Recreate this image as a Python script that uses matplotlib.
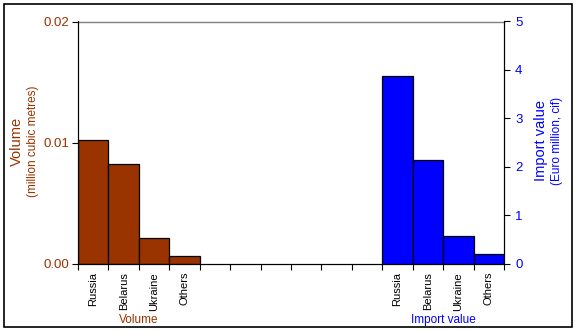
import numpy as np
import matplotlib
matplotlib.use("Agg")
import matplotlib.pyplot as plt
from matplotlib.patches import Rectangle

# ============ 数据 ============
countries = ["Russia", "Belarus", "Ukraine", "Others"]
volume = [0.0102, 0.0082, 0.0021, 0.0006]      # million cubic metres
import_value = [3.88, 2.13, 0.56, 0.19]        # Euro million, cif
group_labels = ["Volume", "Import value"]

N_SLOTS = 14
GAP = 6
BROWN = "#993300"
BLUE = "#0000FF"

plt.rcParams["font.family"] = ["Liberation Sans", "DejaVu Sans"]
plt.rcParams["font.size"] = 8

fig = plt.figure(figsize=(5.77, 3.32), dpi=100)
ax = fig.add_axes([78 / 577, 1 - 263.5 / 332, 426 / 577, 242 / 332])
ax2 = ax.twinx()

# 外框
fig.patches.append(Rectangle((4 / 577, 5 / 332), 568 / 577, 323 / 332,
                             transform=fig.transFigure, fill=False,
                             edgecolor="black", linewidth=1.2))

x_vol = np.arange(len(countries))
x_imp = np.arange(len(countries)) + len(countries) + GAP
ax.bar(x_vol + 0.5, volume, width=1.0, color=BROWN, edgecolor="black", linewidth=0.9)
ax2.bar(x_imp + 0.5, import_value, width=1.0, color=BLUE, edgecolor="black", linewidth=0.9)

ax.set_xlim(0, N_SLOTS)
ax.set_ylim(0, 0.02)
ax2.set_ylim(0, 5)
ax.set_yticks([0, 0.01, 0.02])
ax.set_yticklabels(["0.00", "0.01", "0.02"])
ax2.set_yticks([0, 1, 2, 3, 4, 5])

ax.axhline(0.02, color="#808080", linewidth=1.0, clip_on=False)

for a in (ax, ax2):
    a.spines["top"].set_visible(False)
    a.spines["left"].set_color("black")
    a.spines["right"].set_color("black")
    a.spines["bottom"].set_color("black")

ax.tick_params(axis="y", colors=BROWN, direction="out", length=4, labelsize=9.5, pad=2)
ax.tick_params(axis="y", color="black")
ax2.tick_params(axis="y", colors=BLUE, direction="out", length=4, labelsize=9.5, pad=4)
ax2.tick_params(axis="y", color="black")

ax.set_xticks(np.arange(N_SLOTS + 1))
ax.set_xticklabels([])
ax.tick_params(axis="x", direction="out", length=4, color="black")

# 类别标签
for xs in (x_vol, x_imp):
    for x, name in zip(xs, countries):
        ax.text(x + 0.5, -0.0007, name, rotation=90, ha="center", va="top",
                fontsize=8, color="black")

ax.text(x_vol.mean() + 0.5, -0.00465, group_labels[0], ha="center", va="center",
        fontsize=8.5, color=BROWN)
ax.text(x_imp.mean() + 0.5, -0.00465, group_labels[1], ha="center", va="center",
        fontsize=8.5, color=BLUE)

fig.text(17 / 577, 1 - 141 / 332, "Volume", rotation=90, ha="center", va="center",
         fontsize=10.5, color=BROWN)
fig.text(33 / 577, 1 - 141 / 332, "(million cubic metres)", rotation=90, ha="center",
         va="center", fontsize=8.5, color=BROWN)
fig.text(541 / 577, 1 - 141 / 332, "Import value", rotation=90, ha="center", va="center",
         fontsize=10.5, color=BLUE)
fig.text(557 / 577, 1 - 141 / 332, "(Euro million, cif)", rotation=90, ha="center",
         va="center", fontsize=8.5, color=BLUE)

fig.savefig("out.png", dpi=100)
